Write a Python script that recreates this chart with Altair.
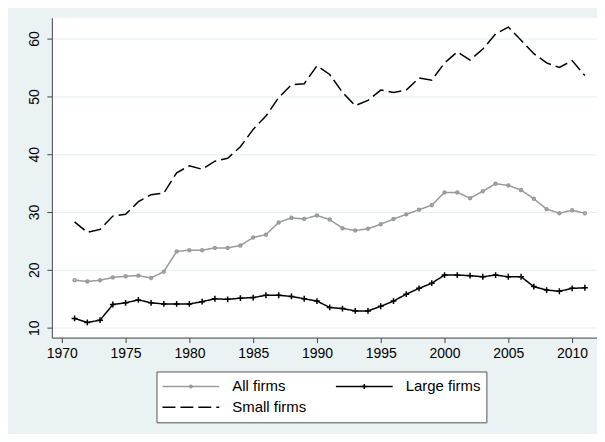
import altair as alt
import pandas as pd

years = list(range(1971, 2012))
series_names = ["All firms", "Large firms", "Small firms"]

all_firms = [18.2, 18.0, 18.2, 18.7, 18.9, 19.0, 18.6, 19.7, 23.2, 23.4,
             23.4, 23.8, 23.8, 24.2, 25.6, 26.1, 28.2, 29.0, 28.8, 29.4,
             28.7, 27.2, 26.8, 27.1, 27.9, 28.8, 29.6, 30.4, 31.2, 33.4,
             33.4, 32.4, 33.6, 34.9, 34.6, 33.8, 32.3, 30.5, 29.8, 30.3,
             29.8]
large_firms = [11.6, 10.9, 11.3, 14.0, 14.3, 14.8, 14.3, 14.1, 14.1, 14.1,
               14.5, 15.0, 14.9, 15.1, 15.2, 15.6, 15.6, 15.4, 15.0, 14.6,
               13.5, 13.3, 12.9, 12.9, 13.7, 14.6, 15.8, 16.8, 17.7, 19.1,
               19.1, 19.0, 18.8, 19.1, 18.8, 18.8, 17.1, 16.5, 16.3, 16.8,
               16.9]
small_firms = [28.3, 26.5, 27.0, 29.3, 29.6, 31.8, 33.0, 33.3, 36.8, 38.0,
               37.4, 38.8, 39.3, 41.3, 44.3, 46.6, 49.8, 52.0, 52.2, 55.3,
               53.8, 50.7, 48.4, 49.3, 51.1, 50.7, 51.1, 53.2, 52.8, 55.8,
               57.7, 56.3, 58.2, 60.8, 62.0, 59.7, 57.4, 55.8, 55.0, 56.2,
               53.6]

x_ticks = [1970, 1975, 1980, 1985, 1990, 1995, 2000, 2005, 2010]
y_ticks = [10, 20, 30, 40, 50, 60]

rows = []
for name, vals in zip(series_names, [all_firms, large_firms, small_firms]):
    for yr, v in zip(years, vals):
        rows.append({"year": yr, "value": v, "series": name})
df = pd.DataFrame(rows)

FONT = "Liberation Sans"

x_enc = alt.X(
    "year:Q",
    scale=alt.Scale(domain=[1969.22, 2011.95], nice=False, zero=False),
    axis=alt.Axis(values=x_ticks, format="d", title=None, grid=False,
                  tickSize=5, labelPadding=4, labelFontSize=14),
)
y_enc = alt.Y(
    "value:Q",
    scale=alt.Scale(domain=[8.28, 63.62], nice=False, zero=False),
    axis=alt.Axis(values=y_ticks, title=None, grid=True, tickSize=5,
                  labelPadding=8, labelAngle=270, labelAlign="center",
                  labelBaseline="alphabetic", labelFontSize=14),
)

common_leg = dict(
    title=None, orient="none", legendX=105, legendY=355, columns=2,
    direction="horizontal",
    symbolSize=3249, symbolStrokeWidth=1.5, clipHeight=20, rowPadding=1,
    columnPadding=28, padding=5, labelOffset=12, labelFont=FONT,
    labelFontSize=15,
)

legA = alt.Legend(
    symbolType="stroke", labelColor="black", strokeColor="#555555",
    fillColor="white", zindex=0,
    labelExpr="datum.label == 'Large firms' ? 'Large firms\u00a0\u00a0\u00a0' : datum.label",
    **common_leg,
)
legB = alt.Legend(labelColor="transparent", zindex=1, **common_leg)

circle_path = "M-0.045,0A0.045,0.045,0,1,0,0.045,0A0.045,0.045,0,1,0,-0.045,0Z"
plus_path = "M-0.09,0H0.09M0,-0.09V0.09"
empty_path = "M0,0"

lines = alt.Chart(df).mark_line(strokeWidth=1.5).encode(
    x=x_enc,
    y=y_enc,
    color=alt.Color("series:N",
                    scale=alt.Scale(domain=series_names,
                                    range=["#9a9a9a", "#000000", "#000000"]),
                    legend=legA),
    strokeDash=alt.StrokeDash("series:N",
                              scale=alt.Scale(domain=series_names,
                                              range=[[1, 0], [1, 0], [13, 5]]),
                              legend=legA),
)

points = alt.Chart(df).mark_point(filled=False, size=4225, strokeWidth=1.5,
                                  opacity=1).encode(
    x=x_enc,
    y=y_enc,
    color=alt.Color("series:N",
                    scale=alt.Scale(domain=series_names,
                                    range=["#9a9a9a", "#000000", "transparent"]),
                    legend=legB),
    shape=alt.Shape("series:N",
                    scale=alt.Scale(domain=series_names,
                                    range=[circle_path, plus_path, empty_path]),
                    legend=legB),
)

chart = alt.layer(lines, points).resolve_scale(
    color="independent", strokeDash="independent", shape="independent"
).properties(
    width=547,
    height=321,
    autosize=alt.AutoSizeParams(type="none"),
    padding={"left": 44, "top": 9, "right": 0, "bottom": 96},
    background="#EAF2F3",
).configure_view(
    fill="white", stroke=None
).configure_axis(
    domainColor="#444444", tickColor="#444444", gridColor="#E6EEF0",
    labelFont=FONT, labelColor="black", domainWidth=1, tickWidth=1,
)

chart.save("out.html", embed_options={"renderer": "svg", "actions": False})
